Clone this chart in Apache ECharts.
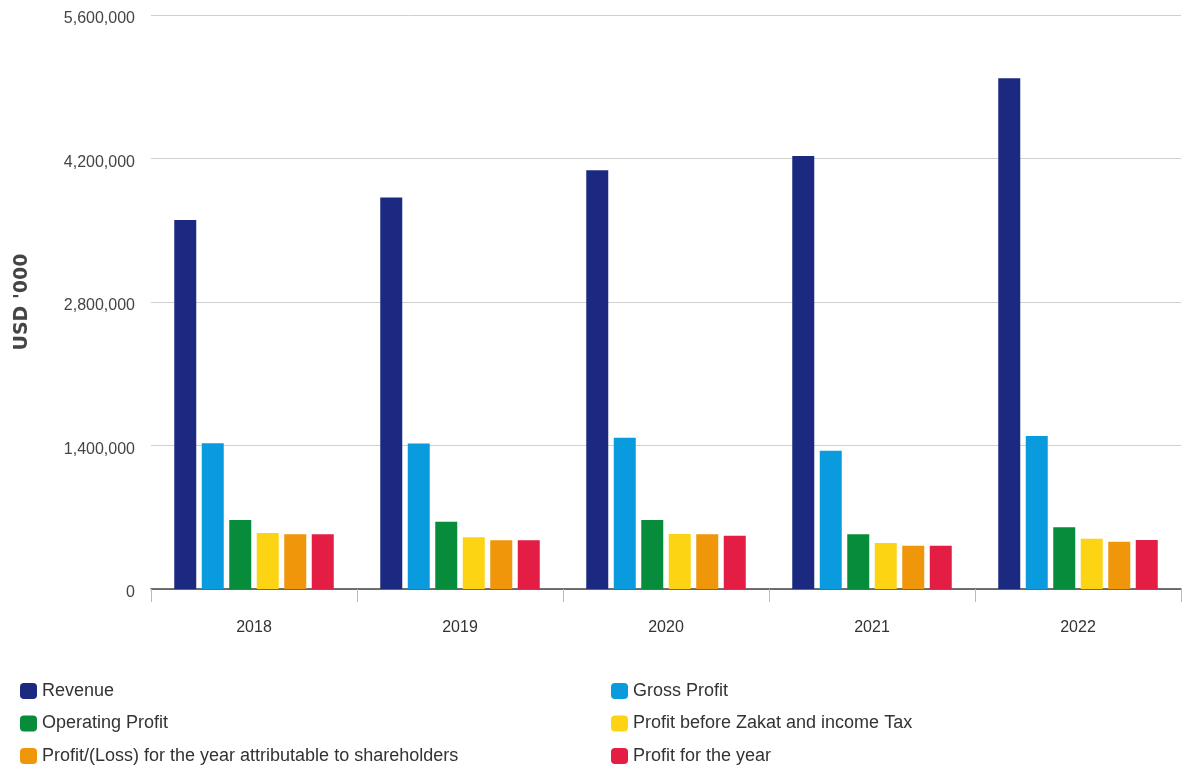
<!DOCTYPE html>
<html><head><meta charset="utf-8">
<script src="https://cdn.jsdelivr.net/npm/echarts@6/dist/echarts.min.js"></script>
<style>html,body{margin:0;padding:0;background:#fff}#c{width:1188px;height:773px}</style>
</head><body><div id="c"></div>
<script>
const years = ['2018','2019','2020','2021','2022'];
const revenue = [3600000, 3820000, 4085000, 4224000, 4982000];
const grossProfit = [1421000, 1420000, 1476000, 1349000, 1493000];
const operatingProfit = [673000, 657000, 673000, 534000, 602000];
const profitBeforeZakat = [546000, 504000, 537000, 449000, 491000];
const profitAttributable = [534000, 475000, 534000, 423000, 461000];
const profitForYear = [534000, 475000, 520000, 423000, 478000];
const yTicks = [0, 1400000, 2800000, 4200000, 5600000];

const FONT = '"Liberation Sans Narrow", "Liberation Sans", Arial, sans-serif';
const names = ['Revenue','Gross Profit','Operating Profit','Profit before Zakat and income Tax','Profit/(Loss) for the year attributable to shareholders','Profit for the year'];
const colors = ['#1b2a80','#0a9ade','#068c3a','#fcd413','#f0960a','#e31d44'];
const data = [revenue, grossProfit, operatingProfit, profitBeforeZakat, profitAttributable, profitForYear];

const chart = echarts.init(document.getElementById('c'), null, {renderer:'canvas'});
const legendCommon = {
  orient:'vertical', top: 682, height: 110, itemWidth: 17, itemHeight: 16, itemGap: 14.5,
  icon: 'roundRect', selectedMode: false, padding: 0,
  textStyle: {fontFamily: FONT, fontSize: 18, color: '#333', padding:[0,0,0,0]}
};
chart.setOption({
  animation: false,
  color: colors,
  grid: {left: 151, right: 7, top: 15, bottom: 184, containLabel: false},
  legend: [
    Object.assign({left: 20, data: [names[0], names[2], names[4]]}, legendCommon),
    Object.assign({left: 611, data: [names[1], names[3], names[5]]}, legendCommon)
  ],
  xAxis: {
    type: 'category', data: years,
    axisLine: {lineStyle: {color: '#444', width: 1.5}},
    axisTick: {show: true, alignWithLabel: false, length: 13, lineStyle: {color: '#bbb'}},
    axisLabel: {fontFamily: FONT, fontSize: 16, color: '#333', margin: 31}
  },
  yAxis: {
    type: 'value', min: 0, max: 5600000, interval: 1400000,
    name: "USD '000", nameLocation: 'middle', nameGap: 119, nameRotate: 90,
    nameTextStyle: {fontFamily: '"DejaVu Sans", sans-serif', fontSize: 19, fontWeight: 'bold', color: '#444'},
    axisLine: {show: false}, axisTick: {show: false},
    splitLine: {lineStyle: {color: '#d0d0d0', width: 1}},
    axisLabel: {fontFamily: FONT, fontSize: 16, color: '#444', margin: 16, verticalAlign: 'top', lineHeight: 8,
      formatter: v => yTicks.includes(v) ? v.toLocaleString('en-US') : ''}
  },
  series: data.map((d, i) => ({
    name: names[i], type: 'bar', data: d, barWidth: 22, barGap: '25%', barCategoryGap: '22%',
    itemStyle: {color: colors[i]}
  }))
});
</script></body></html>
